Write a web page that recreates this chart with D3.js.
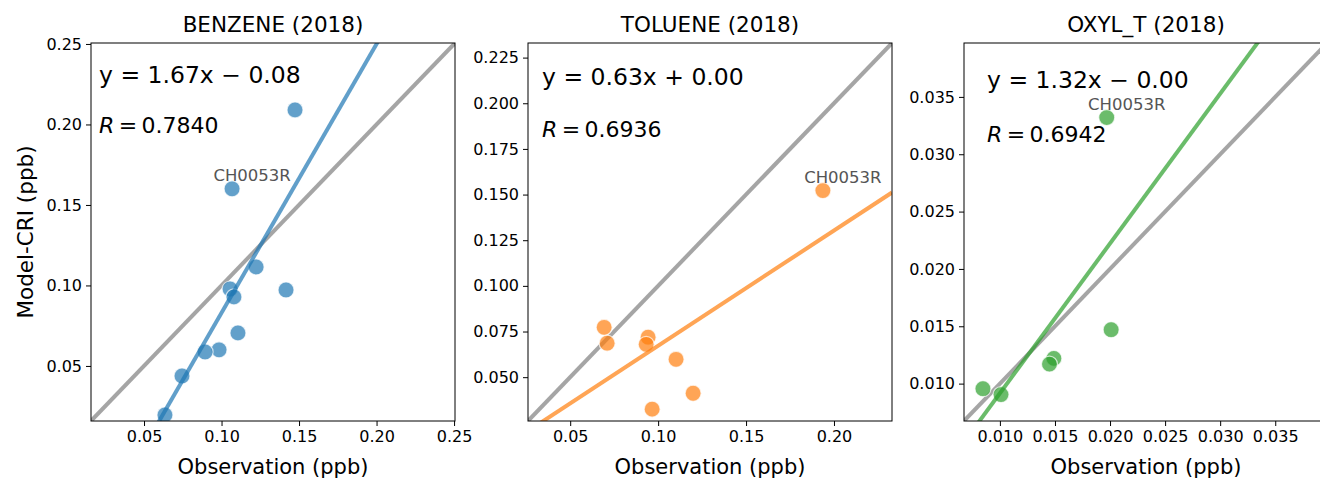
<!DOCTYPE html>
<html><head><meta charset="utf-8">
<script src="https://cdn.jsdelivr.net/npm/d3@7"></script>
<style>body{margin:0;background:#fff}text{font-family:"DejaVu Sans",sans-serif}</style>
</head><body><svg id="c" width="1320" height="479"></svg>
<script>
const titles = ["BENZENE (2018)", "TOLUENE (2018)", "OXYL_T (2018)"];
const colors = ["#1f77b4", "#ff7f0e", "#2ca02c"];
const equations = ["y = 1.67x \u2212 0.08", "y = 0.63x + 0.00", "y = 1.32x \u2212 0.00"];
const rValues = ["0.7840", "0.6936", "0.6942"];
const slopes = [1.67, 0.631, 1.306];
const intercepts = [-0.084, 0.0041, -0.0039];
const domains = [[0.0158, 0.2506], [0.026, 0.233], [0.00674, 0.0397]];
const xTicks = [[0.05, 0.10, 0.15, 0.20, 0.25], [0.05, 0.10, 0.15, 0.20], [0.010, 0.015, 0.020, 0.025, 0.030, 0.035]];
const yTicks = [[0.05, 0.10, 0.15, 0.20, 0.25], [0.050, 0.075, 0.100, 0.125, 0.150, 0.175, 0.200, 0.225], [0.010, 0.015, 0.020, 0.025, 0.030, 0.035]];
const tickFormats = [".2f", ".3f", ".3f"];
const obsX = [
  [0.1474, 0.1068, 0.1223, 0.1055, 0.108, 0.1416, 0.1106, 0.0984, 0.0894, 0.0745, 0.0635],
  [0.1937, 0.0693, 0.0710, 0.0943, 0.0932, 0.1102, 0.1199, 0.0966],
  [0.0197, 0.0201, 0.0149, 0.0145, 0.00846, 0.0101]
];
const modY = [
  [0.209, 0.160, 0.1115, 0.0978, 0.0929, 0.0972, 0.0705, 0.060, 0.0587, 0.0438, 0.0196],
  [0.1522, 0.0773, 0.0686, 0.0719, 0.0680, 0.0598, 0.0412, 0.0325],
  [0.0332, 0.0147, 0.0122, 0.0117, 0.00956, 0.00904]
];
const labelIndex = [1, 0, 0];
const labelText = "CH0053R";

const panels = [
  {left: 91, width: 364, xFmt: ".2f"},
  {left: 528, width: 364, xFmt: ".2f"},
  {left: 964, width: 363, xFmt: ".3f"}
];
const plotTop = 43, h = 378;
const eqY = [[83, 133], [85, 137], [88, 142]];
const svg = d3.select("#c");

panels.forEach((p, i) => {
  const x = d3.scaleLinear().domain(domains[i]).range([p.left, p.left + p.width]);
  const y = d3.scaleLinear().domain(domains[i]).range([plotTop + h, plotTop]);
  const g = svg.append("g");
  const clipId = "clip" + i;
  g.append("clipPath").attr("id", clipId).append("rect")
    .attr("x", p.left).attr("y", plotTop).attr("width", p.width).attr("height", h);

  const xa = g.append("g").attr("transform", `translate(0,${plotTop + h})`)
    .call(d3.axisBottom(x).tickValues(xTicks[i]).tickFormat(d3.format(p.xFmt)).tickSize(5).tickPadding(5));
  const ya = g.append("g").attr("transform", `translate(${p.left},0)`)
    .call(d3.axisLeft(y).tickValues(yTicks[i]).tickFormat(d3.format(tickFormats[i])).tickSize(5).tickPadding(4));
  [xa, ya].forEach(a => {
    a.attr("font-size", 16).attr("font-family", "DejaVu Sans");
    a.select(".domain").remove();
    a.selectAll("text").attr("fill", "#000");
  });

  const plot = g.append("g").attr("clip-path", `url(#${clipId})`);
  const d0 = domains[i];
  plot.append("line")
    .attr("x1", x(d0[0])).attr("y1", y(d0[0])).attr("x2", x(d0[1])).attr("y2", y(d0[1]))
    .attr("stroke", "#808080").attr("stroke-width", 4).attr("opacity", 0.7);

  const pts = obsX[i].map((v, k) => [v, modY[i][k]]);
  plot.selectAll("circle").data(pts).enter().append("circle")
    .attr("cx", d => x(d[0])).attr("cy", d => y(d[1])).attr("r", 8)
    .attr("fill", colors[i]).attr("fill-opacity", 0.7)
    .attr("stroke", "#fff").attr("stroke-width", 1.2).attr("stroke-opacity", 0.7);

  plot.append("line")
    .attr("x1", x(d0[0])).attr("y1", y(slopes[i] * d0[0] + intercepts[i]))
    .attr("x2", x(d0[1])).attr("y2", y(slopes[i] * d0[1] + intercepts[i]))
    .attr("stroke", colors[i]).attr("stroke-width", 4).attr("opacity", 0.7);

  g.append("rect").attr("x", p.left).attr("y", plotTop).attr("width", p.width).attr("height", h)
    .attr("fill", "none").attr("stroke", "#000").attr("stroke-width", 1);

  const lp = pts[labelIndex[i]];
  g.append("text").attr("x", x(lp[0]) + 20).attr("y", y(lp[1]) - 8)
    .attr("text-anchor", "middle").attr("font-size", 16.5).attr("fill", "#555").text(labelText);

  const tx = p.left + (i === 0 ? 8 : i === 1 ? 14 : 23);
  g.append("text").attr("x", tx).attr("y", eqY[i][0]).attr("font-size", 23.5).text(equations[i]);
  const rt = g.append("text").attr("x", tx).attr("y", eqY[i][1]).attr("font-size", 22);
  rt.append("tspan").attr("font-style", "italic").text("R");
  rt.append("tspan").text("\u2009=\u2009" + rValues[i]);

  g.append("text").attr("x", p.left + 182).attr("y", 32).attr("text-anchor", "middle")
    .attr("font-size", 21.5).text(titles[i]);
  g.append("text").attr("x", p.left + 182).attr("y", 474).attr("text-anchor", "middle")
    .attr("font-size", 21).text("Observation (ppb)");
});

svg.append("text").attr("transform", "translate(33,232) rotate(-90)")
  .attr("text-anchor", "middle").attr("font-size", 21.5).text("Model-CRI (ppb)");
</script></body></html>
